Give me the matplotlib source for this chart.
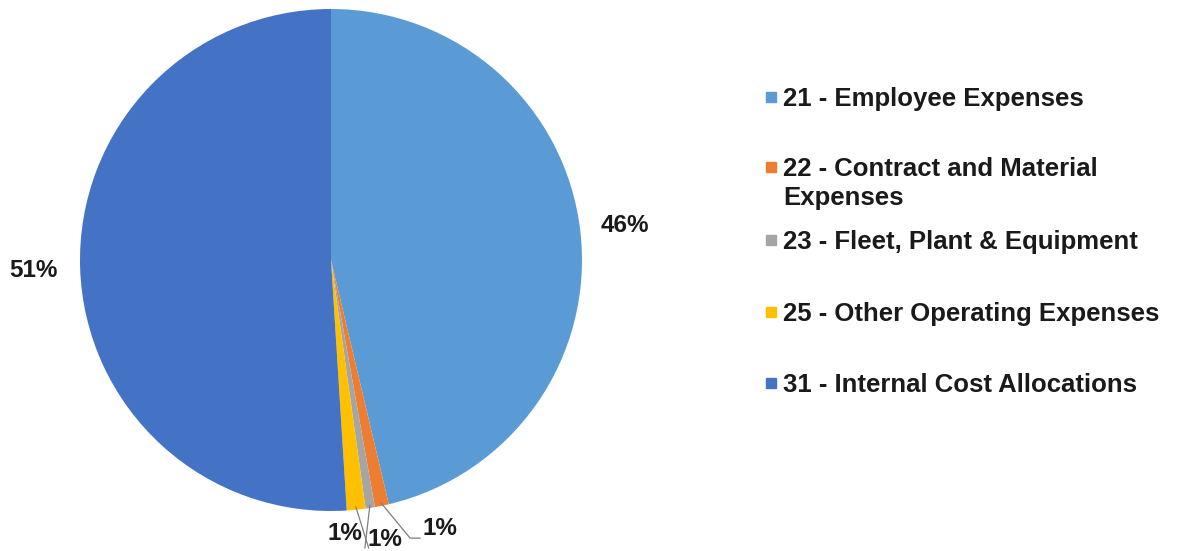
import numpy as np
import matplotlib.pyplot as plt
from matplotlib.patches import Rectangle

plt.rcParams['font.family'] = ['Liberation Sans', 'DejaVu Sans']

# pie data
categories = ['21 - Employee Expenses', '22 - Contract and Material\nExpenses',
              '23 - Fleet, Plant & Equipment', '25 - Other Operating Expenses',
              '31 - Internal Cost Allocations']
shares = [46.3, 0.9, 0.6, 1.2, 51.0]
colors = ['#5B9BD5', '#ED7D31', '#A5A5A5', '#FFC000', '#4472C4']

W, H = 1182, 551
fig = plt.figure(figsize=(W / 100, H / 100), dpi=100)
# pie centre ~ (331, 260) px, radius ~ 251 px
cx, cy, r = 331, 260, 251
ax = fig.add_axes([(cx - r) / W, (H - cy - r) / H, 2 * r / W, 2 * r / H])

wedges, _ = ax.pie(shares, colors=colors, startangle=90, counterclock=False,
                   radius=1.0, wedgeprops=dict(linewidth=0))
ax.set_xlim(-1, 1)
ax.set_ylim(-1, 1)
ax.set_aspect('auto')
ax.axis('off')

# label positions (axes units) and leader line paths
label_pos = [(1.171, 0.139), (0.434, -1.068), (0.215, -1.112), (0.056, -1.088), (-1.187, -0.04)]
leader_end = [None, [(0.315, -1.108), (0.355, -1.108)], [(0.135, -1.147)],
              [(0.150, -1.147)], None]
for w, v, (lx, ly), pts in zip(wedges, shares, label_pos, leader_end):
    ang = np.deg2rad((w.theta1 + w.theta2) / 2)
    px, py = np.cos(ang) * 0.99, np.sin(ang) * 0.99
    ax.text(lx, ly, f'{round(v):.0f}%', ha='center', va='center', fontsize=17.5,
            fontweight='bold', color='#1a1a1a', clip_on=False)
    if pts:
        xs = [px] + [p[0] for p in pts]
        ys = [py] + [p[1] for p in pts]
        ax.plot(xs, ys, color='#7f7f7f', lw=0.9, clip_on=False)

# legend
fs = 18.5
leg_y = [97, 167, 240, 312, 383]
for lab, c, y in zip(categories, colors, leg_y):
    fig.patches.append(Rectangle((766 / W, (H - y - 5) / H), 10 / W, 10 / H,
                                 transform=fig.transFigure, color=c, figure=fig))
    fig.text(783 / W, (H - y + 10) / H, lab, ha='left', va='top', fontsize=fs,
             fontweight='bold', color='#1a1a1a', linespacing=1.25)

fig.savefig('out.png', dpi=100)
